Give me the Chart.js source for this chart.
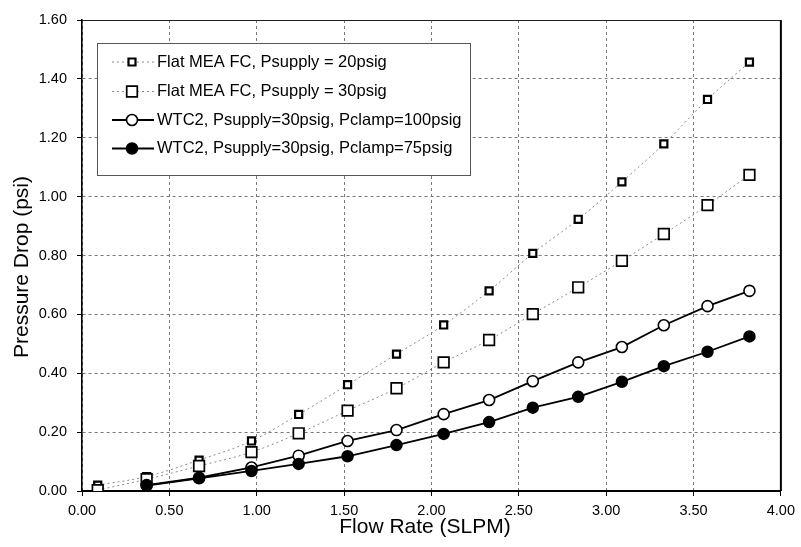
<!DOCTYPE html>
<html>
<head>
<meta charset="utf-8">
<script src="https://cdn.jsdelivr.net/npm/chart.js@4/dist/chart.umd.min.js"></script>
<style>
  html, body { margin: 0; padding: 0; background: #fff; }
  #wrap { width: 801px; height: 547px; }
</style>
</head>
<body>
<div id="wrap"><canvas id="c" width="801" height="547"></canvas></div>
<script>
// ---- data ----
const flowFlat = [0.09, 0.37, 0.67, 0.97, 1.24, 1.52, 1.80, 2.07, 2.33, 2.58, 2.84, 3.09, 3.33, 3.58, 3.82];
const flat20   = [0.020, 0.049, 0.105, 0.170, 0.260, 0.361, 0.465, 0.564, 0.680, 0.807, 0.923, 1.050, 1.179, 1.330, 1.457];
const flat30   = [0.003, 0.040, 0.085, 0.132, 0.196, 0.273, 0.349, 0.437, 0.513, 0.601, 0.692, 0.782, 0.873, 0.971, 1.074];
const flowWtc  = [0.37, 0.67, 0.97, 1.24, 1.52, 1.80, 2.07, 2.33, 2.58, 2.84, 3.09, 3.33, 3.58, 3.82];
const wtc100   = [0.020, 0.045, 0.080, 0.120, 0.170, 0.207, 0.261, 0.309, 0.373, 0.437, 0.489, 0.563, 0.628, 0.680];
const wtc75    = [0.018, 0.043, 0.068, 0.092, 0.118, 0.156, 0.194, 0.234, 0.283, 0.320, 0.371, 0.424, 0.473, 0.525];
const seriesLabels = [
  'Flat MEA FC, Psupply = 20psig',
  'Flat MEA FC, Psupply = 30psig',
  'WTC2, Psupply=30psig, Pclamp=100psig',
  'WTC2, Psupply=30psig, Pclamp=75psig'
];
const xTitle = 'Flow Rate (SLPM)';
const yTitle = 'Pressure Drop (psi)';

const pts = (xs, ys) => xs.map((x, i) => ({x: x, y: ys[i]}));
const FONT = "'Liberation Sans', Arial, sans-serif";

const datasets = [
  { label: seriesLabels[0], data: pts(flowFlat, flat20), order: 3,
    showLine: true, borderColor: '#8a8a8a', borderWidth: 1, borderDash: [2, 3], cubicInterpolationMode: 'monotone',
    pointStyle: 'rect', pointRadius: 5, pointBorderWidth: 2.2, pointBorderColor: '#000', pointBackgroundColor: '#fff',
    _legend: {sq: 7, lw: 2.2, fill: '#fff', shape: 'rect'} },
  { label: seriesLabels[1], data: pts(flowFlat, flat30), order: 2,
    showLine: true, borderColor: '#8a8a8a', borderWidth: 1, borderDash: [2, 3], cubicInterpolationMode: 'monotone',
    pointStyle: 'rect', pointRadius: 7.5, pointBorderWidth: 1.7, pointBorderColor: '#000', pointBackgroundColor: '#fff',
    _legend: {sq: 10.6, lw: 1.7, fill: '#fff', shape: 'rect'} },
  { label: seriesLabels[2], data: pts(flowWtc, wtc100), order: 1,
    showLine: true, borderColor: '#000', borderWidth: 1.8, tension: 0,
    pointStyle: 'circle', pointRadius: 5.5, pointBorderWidth: 1.6, pointBorderColor: '#000', pointBackgroundColor: '#fff',
    _legend: {r: 5.5, lw: 1.6, fill: '#fff', shape: 'circle'} },
  { label: seriesLabels[3], data: pts(flowWtc, wtc75), order: 0,
    showLine: true, borderColor: '#000', borderWidth: 1.8, tension: 0,
    pointStyle: 'circle', pointRadius: 5.5, pointBorderWidth: 1.5, pointBorderColor: '#000', pointBackgroundColor: '#000',
    _legend: {r: 5.5, lw: 1.5, fill: '#000', shape: 'circle'} }
];

const framePlugin = {
  id: 'frame',
  beforeDatasetsDraw(chart) {
    const {ctx, chartArea: a} = chart;
    ctx.save();
    ctx.strokeStyle = '#222';
    ctx.lineWidth = 1;
    ctx.beginPath(); ctx.moveTo(a.left, a.top + 0.5); ctx.lineTo(a.right, a.top + 0.5); ctx.stroke();
    ctx.strokeStyle = '#000';
    ctx.lineWidth = 2;
    ctx.beginPath(); ctx.moveTo(a.right, a.top); ctx.lineTo(a.right, a.bottom); ctx.stroke();
    ctx.restore();
  },
  afterDraw(chart) {
    const ctx = chart.ctx;
    ctx.save();
    // axis titles
    ctx.fillStyle = '#000';
    ctx.font = '21px ' + FONT;
    ctx.textAlign = 'center';
    ctx.textBaseline = 'middle';
    ctx.fillText(xTitle, 425, 527);
    ctx.translate(22, 267);
    ctx.rotate(-Math.PI / 2);
    ctx.fillText(yTitle, 0, 0);
    ctx.restore();

    // legend box
    ctx.save();
    const bx = 97.5, by = 43.5, bw = 373, bh = 132;
    ctx.fillStyle = '#fff';
    ctx.fillRect(bx, by, bw, bh);
    ctx.strokeStyle = '#555';
    ctx.lineWidth = 1;
    ctx.strokeRect(bx, by, bw, bh);
    const rows = [62, 91.5, 120, 148.5];
    chart.data.datasets.forEach((ds, i) => {
      const y = rows[i];
      const L = ds._legend;
      ctx.save();
      ctx.strokeStyle = ds.borderColor;
      ctx.lineWidth = ds.borderWidth;
      ctx.setLineDash(ds.borderDash || []);
      ctx.beginPath(); ctx.moveTo(112, y); ctx.lineTo(154, y); ctx.stroke();
      ctx.restore();
      ctx.save();
      ctx.lineWidth = L.lw;
      ctx.strokeStyle = '#000';
      ctx.fillStyle = L.fill;
      const cx = 132;
      ctx.beginPath();
      if (L.shape === 'rect') {
        ctx.rect(cx - L.sq / 2, y - L.sq / 2, L.sq, L.sq);
      } else {
        ctx.arc(cx, y, L.r, 0, Math.PI * 2);
      }
      ctx.fill(); ctx.stroke();
      ctx.restore();
      ctx.fillStyle = '#000';
      ctx.font = '16.5px ' + FONT;
      ctx.textAlign = 'left';
      ctx.textBaseline = 'middle';
      ctx.fillText(ds.label, 157, y);
    });
    ctx.restore();
  }
};

new Chart(document.getElementById('c'), {
  type: 'scatter',
  data: { datasets: datasets },
  options: {
    responsive: false,
    animation: false,
    layout: { padding: { top: 20, right: 16, left: 0, bottom: 0 } },
    plugins: { legend: { display: false }, tooltip: { enabled: false }, title: { display: false } },
    scales: {
      x: {
        type: 'linear', min: 0, max: 4,
        afterFit: s => { s.height = 56; },
        ticks: { stepSize: 0.5, color: '#000', padding: 6, font: { family: FONT, size: 14.5 },
                 callback: v => Number(v).toFixed(2), maxRotation: 0 },
        grid: { color: '#7a7a7a', lineWidth: 1, tickColor: '#000', tickLength: 5, tickBorderDash: [] },
        border: { display: true, color: '#000', width: 2, dash: [3, 3] }
      },
      y: {
        type: 'linear', min: 0, max: 1.6,
        afterFit: s => { s.width = 82; },
        ticks: { stepSize: 0.2, color: '#000', padding: 10, font: { family: FONT, size: 14.5 },
                 callback: v => Number(v).toFixed(2) },
        grid: { color: '#7a7a7a', lineWidth: 1, tickColor: '#000', tickLength: 5, tickBorderDash: [] },
        border: { display: true, color: '#000', width: 1.6, dash: [3, 3] }
      }
    }
  },
  plugins: [framePlugin]
});
</script>
</body>
</html>
